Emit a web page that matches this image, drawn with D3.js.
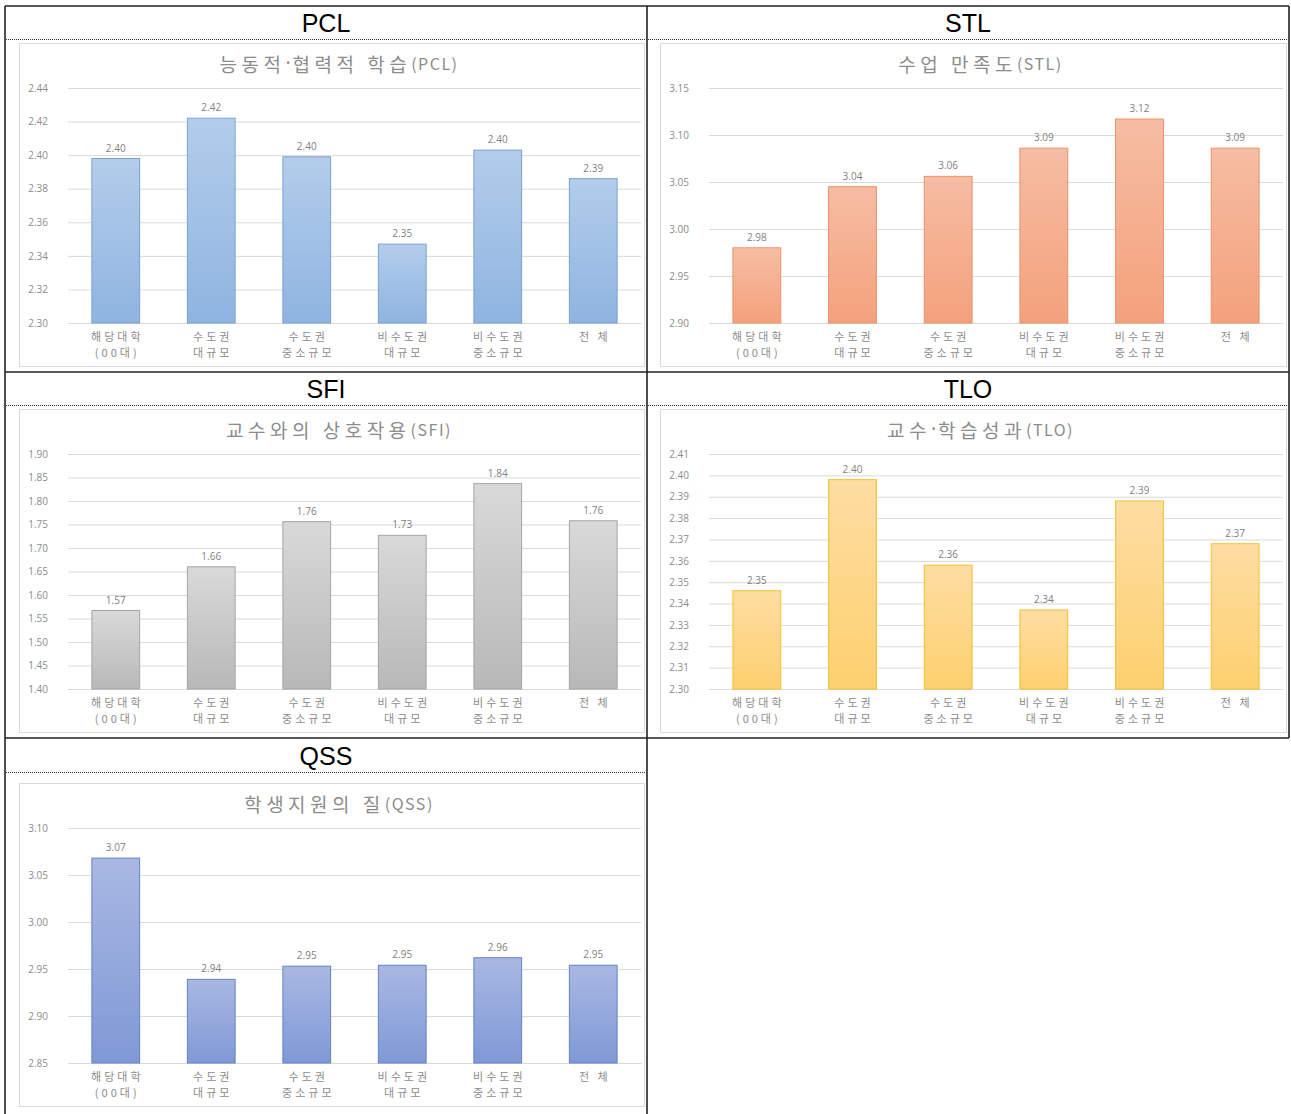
<!DOCTYPE html>
<html>
<head>
<meta charset="utf-8">
<script src="https://cdn.jsdelivr.net/npm/d3@7"></script>
<style>
  html, body { margin: 0; padding: 0; background: #fff; }
  svg { display: block; }
</style>
</head>
<body>
<svg id="chart" width="1291" height="1114"></svg>
<script>
// ---- data ----
const categories = [["해당대학", "(00대)"], ["수도권", "대규모"], ["수도권", "중소규모"], ["비수도권", "대규모"], ["비수도권", "중소규모"], ["전 체"]];
const codes = ["PCL", "STL", "SFI", "TLO", "QSS"];
const titles = ["능동적·협력적 학습", "수업 만족도", "교수와의 상호작용", "교수·학습성과", "학생지원의 질"];

const pclValues = [2.398, 2.422, 2.399, 2.347, 2.403, 2.386];
const pclTicks = [2.30, 2.32, 2.34, 2.36, 2.38, 2.40, 2.42, 2.44];

const stlValues = [2.980, 3.045, 3.056, 3.086, 3.117, 3.086];
const stlTicks = [2.90, 2.95, 3.00, 3.05, 3.10, 3.15];

const sfiValues = [1.567, 1.660, 1.756, 1.727, 1.837, 1.758];
const sfiTicks = [1.40, 1.45, 1.50, 1.55, 1.60, 1.65, 1.70, 1.75, 1.80, 1.85, 1.90];

const tloValues = [2.346, 2.398, 2.358, 2.337, 2.388, 2.368];
const tloTicks = [2.30, 2.31, 2.32, 2.33, 2.34, 2.35, 2.36, 2.37, 2.38, 2.39, 2.40, 2.41];

const qssValues = [3.068, 2.939, 2.953, 2.954, 2.962, 2.954];
const qssTicks = [2.85, 2.90, 2.95, 3.00, 3.05, 3.10];

const valueSets = [pclValues, stlValues, sfiValues, tloValues, qssValues];
const tickSets = [pclTicks, stlTicks, sfiTicks, tloTicks, qssTicks];

// ---- styles ----
const palettes = [
  { top: "#b3cdeb", bottom: "#8fb4e0", stroke: "#7aa1d2" },
  { top: "#f6bda3", bottom: "#f4a17c", stroke: "#e8936a" },
  { top: "#d9d9d9", bottom: "#b8b8b8", stroke: "#a5a5a5" },
  { top: "#fedda3", bottom: "#fdd06f", stroke: "#f4c030" },
  { top: "#a9b8e2", bottom: "#7f99d6", stroke: "#6582c6" }
];

const svg = d3.select("#chart");
const defs = svg.append("defs");

const X0 = 5, XM = 647, X1 = 1289;
const rowTops = [6, 372, 738];
const dottedYs = [39, 405, 772];
const panelTops = [43, 409, 783];
const BOTTOM = 1120;

const KFONT = "'Noto Sans CJK KR', 'Noto Sans', sans-serif";

// ---- table frame ----
const frame = svg.append("g");
rowTops.forEach(y => {
  frame.append("line").attr("x1", X0).attr("x2", X1).attr("y1", y).attr("y2", y)
    .attr("stroke", "#222").attr("stroke-width", 1.6);
});
frame.append("line").attr("x1", X0).attr("x2", X0).attr("y1", rowTops[0]).attr("y2", BOTTOM)
  .attr("stroke", "#222").attr("stroke-width", 1.6);
frame.append("line").attr("x1", XM).attr("x2", XM).attr("y1", rowTops[0]).attr("y2", BOTTOM)
  .attr("stroke", "#222").attr("stroke-width", 1.6);
frame.append("line").attr("x1", X1).attr("x2", X1).attr("y1", rowTops[0]).attr("y2", rowTops[2])
  .attr("stroke", "#222").attr("stroke-width", 1.6);

// ---- cells ----
codes.forEach((code, i) => {
  const row = Math.floor(i / 2), col = i % 2;
  const cx0 = col === 0 ? X0 : XM, cx1 = col === 0 ? XM : X1;
  const values = valueSets[i], ticks = tickSets[i], pal = palettes[i];

  // header text
  svg.append("text")
    .attr("x", (cx0 + cx1) / 2).attr("y", dottedYs[row] - 16)
    .attr("text-anchor", "middle").attr("dominant-baseline", "central")
    .attr("font-family", "'Liberation Sans', Arial, sans-serif")
    .attr("font-size", 25).attr("fill", "#000")
    .text(code);

  // dotted line
  svg.append("line")
    .attr("x1", cx0 + 1).attr("x2", cx1 - 1)
    .attr("y1", dottedYs[row] + 0.5).attr("y2", dottedYs[row] + 0.5)
    .attr("stroke", "#333").attr("stroke-width", 1).attr("stroke-dasharray", "1,1");

  // panel
  const px0 = col === 0 ? 19 : 660;
  const px1 = col === 0 ? 645 : 1287;
  const py0 = panelTops[row], py1 = py0 + 324;
  svg.append("rect")
    .attr("x", px0 + 0.5).attr("y", py0 + 0.5)
    .attr("width", px1 - px0 - 1).attr("height", py1 - py0 - 1)
    .attr("fill", "#fff").attr("stroke", "#d9d9d9");

  // title: Korean part + code in parentheses
  const tt = svg.append("text")
    .attr("x", (px0 + px1) / 2 + 7).attr("y", py0 + 20)
    .attr("text-anchor", "middle").attr("dominant-baseline", "central")
    .attr("font-family", KFONT)
    .attr("fill", "#8c8c8c");
  titles[i].split("·").forEach((part, k) => {
    if (k > 0) {
      tt.append("tspan").attr("font-family", "'Noto Sans', sans-serif")
        .attr("font-size", 19).attr("letter-spacing", "2px").text("·");
    }
    tt.append("tspan").attr("font-size", 19).attr("letter-spacing", "4.5px").text(part);
  });
  tt.append("tspan").attr("font-size", 16).attr("letter-spacing", "1.5px").text("(" + code + ")");

  // plot area
  const left = px0 + 49, right = px1 - 4;
  const top = py0 + 45, bottom = py0 + 280;

  const x = d3.scaleBand().domain(d3.range(categories.length))
    .range([left, right]).paddingInner(0.5).paddingOuter(0.25);
  const y = d3.scaleLinear().domain([ticks[0], ticks[ticks.length - 1]]).range([bottom, top]);

  // gradient
  const gid = "grad" + code;
  const g = defs.append("linearGradient").attr("id", gid)
    .attr("x1", 0).attr("y1", 0).attr("x2", 0).attr("y2", 1);
  g.append("stop").attr("offset", "0%").attr("stop-color", pal.top);
  g.append("stop").attr("offset", "100%").attr("stop-color", pal.bottom);

  // y axis with gridlines
  const yAxis = d3.axisLeft(y).tickValues(ticks).tickFormat(d3.format(".2f"))
    .tickSize(-(right - left)).tickPadding(20);
  const ya = svg.append("g").attr("transform", `translate(${left},0)`).call(yAxis);
  ya.select(".domain").remove();
  ya.selectAll(".tick line").attr("stroke", "#d9d9d9").attr("stroke-width", 1);
  ya.selectAll(".tick text")
    .attr("font-family", "'Open Sans', 'DejaVu Sans', sans-serif")
    .attr("font-size", 10).attr("fill", "#8c8c8c");

  // x axis (category labels)
  const xa = svg.append("g").attr("transform", `translate(0,${bottom})`)
    .call(d3.axisBottom(x).tickSize(0).tickFormat(() => ""));
  xa.select(".domain").attr("stroke", "#d9d9d9");
  xa.selectAll(".tick").each(function (d) {
    const t = d3.select(this).select("text")
      .attr("y", 0).attr("dy", null)
      .attr("font-family", KFONT).attr("font-size", 11)
      .attr("letter-spacing", "3px").attr("fill", "#8c8c8c");
    categories[d].forEach((line, k) => {
      t.append("tspan").attr("x", 1.5).attr("y", 18 + k * 16).text(line);
    });
  });

  // bars
  svg.append("g").selectAll("rect").data(values).join("rect")
    .attr("x", (d, j) => x(j)).attr("width", x.bandwidth())
    .attr("y", d => y(d)).attr("height", d => bottom - y(d))
    .attr("fill", `url(#${gid})`).attr("stroke", pal.stroke).attr("stroke-width", 1);

  // value labels
  svg.append("g").selectAll("text").data(values).join("text")
    .attr("x", (d, j) => x(j) + x.bandwidth() / 2)
    .attr("y", d => y(d) - 7)
    .attr("text-anchor", "middle")
    .attr("font-family", "'Open Sans', 'DejaVu Sans', sans-serif")
    .attr("font-size", 10).attr("fill", "#7f7f7f")
    .text(d => d3.format(".2f")(d));
});
</script>
</body>
</html>
